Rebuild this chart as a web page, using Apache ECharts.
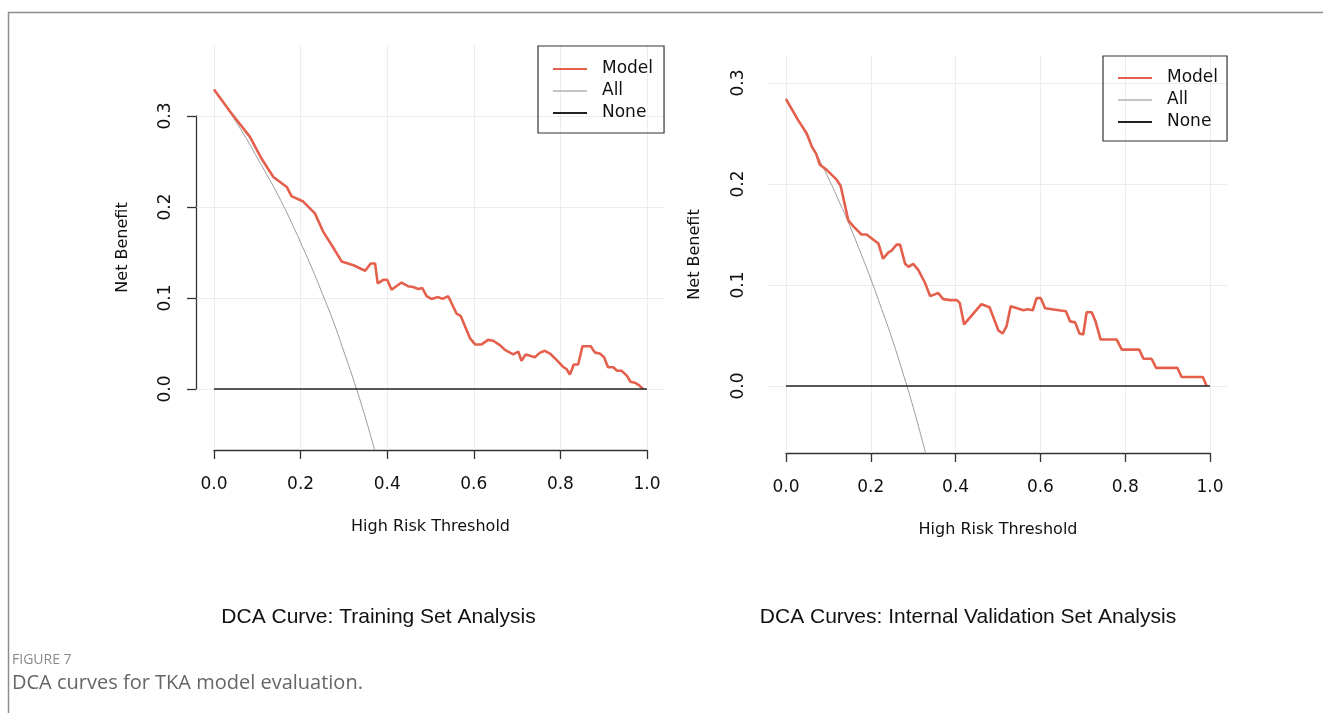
<!DOCTYPE html>
<html>
<head>
<meta charset="utf-8">
<script src="https://cdn.jsdelivr.net/npm/echarts@6.0.0/dist/echarts.min.js"></script>
<style>
html, body { margin: 0; padding: 0; background: #fff; }
#chart { width: 1323px; height: 713px; }
</style>
</head>
<body>
<div id="chart"></div>
<script>
// thresholds / net benefit
var trainT = [0, 0.037, 0.083, 0.110, 0.137, 0.168, 0.179, 0.206, 0.233, 0.252, 0.272, 0.295, 0.322, 0.349, 0.362, 0.372, 0.378, 0.391, 0.400, 0.410, 0.433, 0.448, 0.460, 0.472, 0.481, 0.491, 0.502, 0.518, 0.528, 0.541, 0.560, 0.570, 0.591, 0.603, 0.618, 0.633, 0.645, 0.661, 0.672, 0.691, 0.703, 0.710, 0.720, 0.741, 0.753, 0.764, 0.776, 0.791, 0.807, 0.814, 0.822, 0.831, 0.841, 0.851, 0.870, 0.880, 0.891, 0.901, 0.910, 0.922, 0.931, 0.941, 0.953, 0.962, 0.972, 0.982, 0.991];
var trainModel = [0.329, 0.305, 0.277, 0.253, 0.233, 0.222, 0.212, 0.206, 0.193, 0.173, 0.158, 0.140, 0.136, 0.130, 0.138, 0.138, 0.116, 0.120, 0.120, 0.109, 0.117, 0.113, 0.112, 0.110, 0.111, 0.102, 0.099, 0.101, 0.099, 0.102, 0.083, 0.080, 0.056, 0.049, 0.049, 0.054, 0.053, 0.048, 0.043, 0.038, 0.041, 0.031, 0.038, 0.035, 0.040, 0.042, 0.039, 0.032, 0.024, 0.022, 0.016, 0.027, 0.027, 0.047, 0.047, 0.040, 0.039, 0.035, 0.024, 0.024, 0.020, 0.020, 0.015, 0.008, 0.007, 0.004, 0];
var trainAllT = [0, 0.025, 0.05, 0.075, 0.1, 0.125, 0.15, 0.175, 0.2, 0.225, 0.25, 0.275, 0.3, 0.325, 0.35, 0.371];
var trainAll = [0.329, 0.312, 0.294, 0.275, 0.254, 0.233, 0.211, 0.187, 0.161, 0.134, 0.105, 0.075, 0.041, 0.006, -0.032, -0.067];

var validT = [0, 0.029, 0.049, 0.061, 0.071, 0.080, 0.096, 0.120, 0.129, 0.147, 0.159, 0.178, 0.190, 0.218, 0.229, 0.241, 0.249, 0.261, 0.269, 0.281, 0.289, 0.300, 0.312, 0.328, 0.340, 0.359, 0.371, 0.387, 0.403, 0.410, 0.420, 0.461, 0.480, 0.501, 0.511, 0.520, 0.530, 0.560, 0.569, 0.582, 0.591, 0.601, 0.611, 0.660, 0.670, 0.682, 0.692, 0.701, 0.709, 0.721, 0.730, 0.742, 0.780, 0.792, 0.833, 0.843, 0.862, 0.873, 0.923, 0.933, 0.983, 0.992];
var validModel = [0.284, 0.263, 0.250, 0.237, 0.230, 0.219, 0.214, 0.204, 0.198, 0.164, 0.158, 0.150, 0.150, 0.141, 0.126, 0.132, 0.134, 0.140, 0.140, 0.121, 0.118, 0.121, 0.115, 0.102, 0.089, 0.092, 0.086, 0.085, 0.085, 0.082, 0.061, 0.081, 0.078, 0.055, 0.052, 0.059, 0.079, 0.075, 0.076, 0.075, 0.087, 0.087, 0.077, 0.074, 0.064, 0.063, 0.052, 0.051, 0.073, 0.073, 0.064, 0.046, 0.046, 0.036, 0.036, 0.027, 0.027, 0.018, 0.018, 0.009, 0.009, 0];
var validAllT = [0, 0.025, 0.05, 0.075, 0.1, 0.125, 0.15, 0.175, 0.2, 0.225, 0.25, 0.275, 0.3, 0.329];
var validAll = [0.285, 0.267, 0.247, 0.227, 0.206, 0.183, 0.159, 0.133, 0.106, 0.077, 0.047, 0.014, -0.021, -0.066];

var noneT = [0, 1];
var noneNB = [0, 0];

var xTicks = [0, 0.2, 0.4, 0.6, 0.8, 1.0];
var yTicks = [0, 0.1, 0.2, 0.3];
var legendNames = ['Model', 'All', 'None'];
var titles = ['DCA Curve: Training Set Analysis', 'DCA Curves: Internal Validation Set Analysis'];

function pairs(xs, ys) {
    return xs.map(function (x, i) { return [x, ys[i]]; });
}

var tickFont = 'DejaVu Sans';
var modelColor = '#e5604c';
var allColor = '#9a9a9a';
var noneColor = '#222';

var chart = echarts.init(document.getElementById('chart'));

function fmt(v) { return v.toFixed(1); }

// data grid (R usr region) + axis grid (0..1 / 0..0.3 with R-style offset axes)
function dataX(grid) {
    return {
        type: 'value', gridIndex: grid, min: -0.04, max: 1.04,
        axisLine: { show: false }, axisTick: { show: false },
        axisLabel: { show: false }, splitLine: { show: false }
    };
}
function dataY(grid, min, max) {
    return {
        type: 'value', gridIndex: grid, min: min, max: max,
        name: 'Net Benefit', nameLocation: 'middle', nameGap: 66,
        nameTextStyle: { fontFamily: tickFont, fontSize: 16, color: '#111' },
        axisLine: { show: false }, axisTick: { show: false },
        axisLabel: { show: false }, splitLine: { show: false }
    };
}
function axisX(grid, offset) {
    return {
        type: 'value', gridIndex: grid, min: 0, max: 1, interval: 0.2, offset: offset,
        name: 'High Risk Threshold', nameLocation: 'middle', nameGap: 69,
        nameTextStyle: { fontFamily: tickFont, fontSize: 16, color: '#111' },
        axisLine: { show: true, onZero: false, lineStyle: { color: '#333', width: 1.3 } },
        axisTick: { show: true, length: 9, lineStyle: { color: '#333', width: 1.3 } },
        axisLabel: { margin: 26, formatter: fmt, fontFamily: tickFont, fontSize: 17, color: '#111' },
        splitLine: { show: false }
    };
}
function axisY(grid, offset, showLine) {
    return {
        type: 'value', gridIndex: grid, min: 0, max: 0.3, interval: 0.1, offset: offset,
        axisLine: { show: showLine, onZero: false, lineStyle: { color: '#333', width: 1.3 } },
        axisTick: { show: showLine, length: 9, lineStyle: { color: '#333', width: 1.3 } },
        axisLabel: { margin: 22, rotate: 90, formatter: fmt, fontFamily: tickFont, fontSize: 17, color: '#111' },
        splitLine: { show: false }
    };
}

function plotSeries(axisIdx, modelPts, allPts) {
    var gridLines = xTicks.map(function (v) { return { xAxis: v }; })
        .concat(yTicks.map(function (v) { return { yAxis: v }; }));
    return [
        {
            name: 'All', type: 'line', xAxisIndex: axisIdx, yAxisIndex: axisIdx,
            data: allPts, symbol: 'none', smooth: true, z: 3,
            lineStyle: { color: allColor, width: 1 }, itemStyle: { color: allColor },
            markLine: {
                silent: true, symbol: 'none', z: 1, animation: false,
                label: { show: false },
                lineStyle: { color: '#ececec', width: 1, type: 'solid' },
                data: gridLines
            }
        },
        {
            name: 'Model', type: 'line', xAxisIndex: axisIdx, yAxisIndex: axisIdx,
            data: modelPts, symbol: 'none', z: 4,
            lineStyle: { color: modelColor, width: 2.6 }, itemStyle: { color: modelColor }
        },
        {
            name: 'None', type: 'line', xAxisIndex: axisIdx, yAxisIndex: axisIdx,
            data: pairs(noneT, noneNB), symbol: 'none', z: 5,
            lineStyle: { color: noneColor, width: 1.5 }, itemStyle: { color: noneColor }
        }
    ];
}

function legendBox(left, top, padding) {
    var colors = { Model: modelColor, All: '#c4c4c4', None: noneColor };
    return {
        data: legendNames.map(function (n) {
            return { name: n, icon: 'rect', itemStyle: { color: colors[n] } };
        }),
        orient: 'vertical', left: left, top: top,
        padding: padding, itemGap: 0, itemWidth: 34, itemHeight: 2,
        borderColor: '#333', borderWidth: 1.2, selectedMode: false,
        textStyle: { fontFamily: tickFont, fontSize: 17, lineHeight: 22, color: '#111', padding: [0, 0, 0, 10] }
    };
}

var option = {
    animation: false,
    backgroundColor: '#fff',
    grid: [
        { left: 196.7, top: 45, width: 467.6, height: 405 },
        { left: 214, top: 116, width: 433, height: 273 },
        { left: 769, top: 56, width: 458, height: 397 },
        { left: 786, top: 83, width: 424, height: 303 }
    ],
    xAxis: [dataX(0), axisX(1, 61), dataX(2), axisX(3, 67)],
    yAxis: [dataY(0, -0.067, 0.378), axisY(1, 18, true), dataY(2, -0.0663, 0.3267), axisY(3, 17, false)],
    legend: [
        legendBox(538, 46, [12, 11, 9, 15]),
        legendBox(1103, 56, [11, 9, 8, 15])
    ],
    series: plotSeries(0, pairs(trainT, trainModel), pairs(trainAllT, trainAll))
        .concat(plotSeries(2, pairs(validT, validModel), pairs(validAllT, validAll))),
    graphic: [
        { type: 'line', shape: { x1: 8, y1: 12.5, x2: 1323, y2: 12.5 }, style: { stroke: '#8c8c8c', lineWidth: 1.5 } },
        { type: 'line', shape: { x1: 8.5, y1: 12, x2: 8.5, y2: 713 }, style: { stroke: '#8c8c8c', lineWidth: 1.5 } },
        { type: 'text', x: 378.5, y: 617, style: { text: titles[0], fontFamily: 'Liberation Sans', fontSize: 21, fill: '#111', align: 'center', verticalAlign: 'middle' } },
        { type: 'text', x: 968, y: 617, style: { text: titles[1], fontFamily: 'Liberation Sans', fontSize: 21, fill: '#111', align: 'center', verticalAlign: 'middle' } },
        { type: 'text', x: 12, y: 660, style: { text: 'FIGURE 7', fontFamily: 'Open Sans', fontSize: 14, fill: '#8a8a8a', verticalAlign: 'middle' } },
        { type: 'text', x: 12, y: 683, style: { text: 'DCA curves for TKA model evaluation.', fontFamily: 'Open Sans', fontSize: 20, fill: '#666', verticalAlign: 'middle' } }
    ]
};

chart.setOption(option);
</script>
</body>
</html>
